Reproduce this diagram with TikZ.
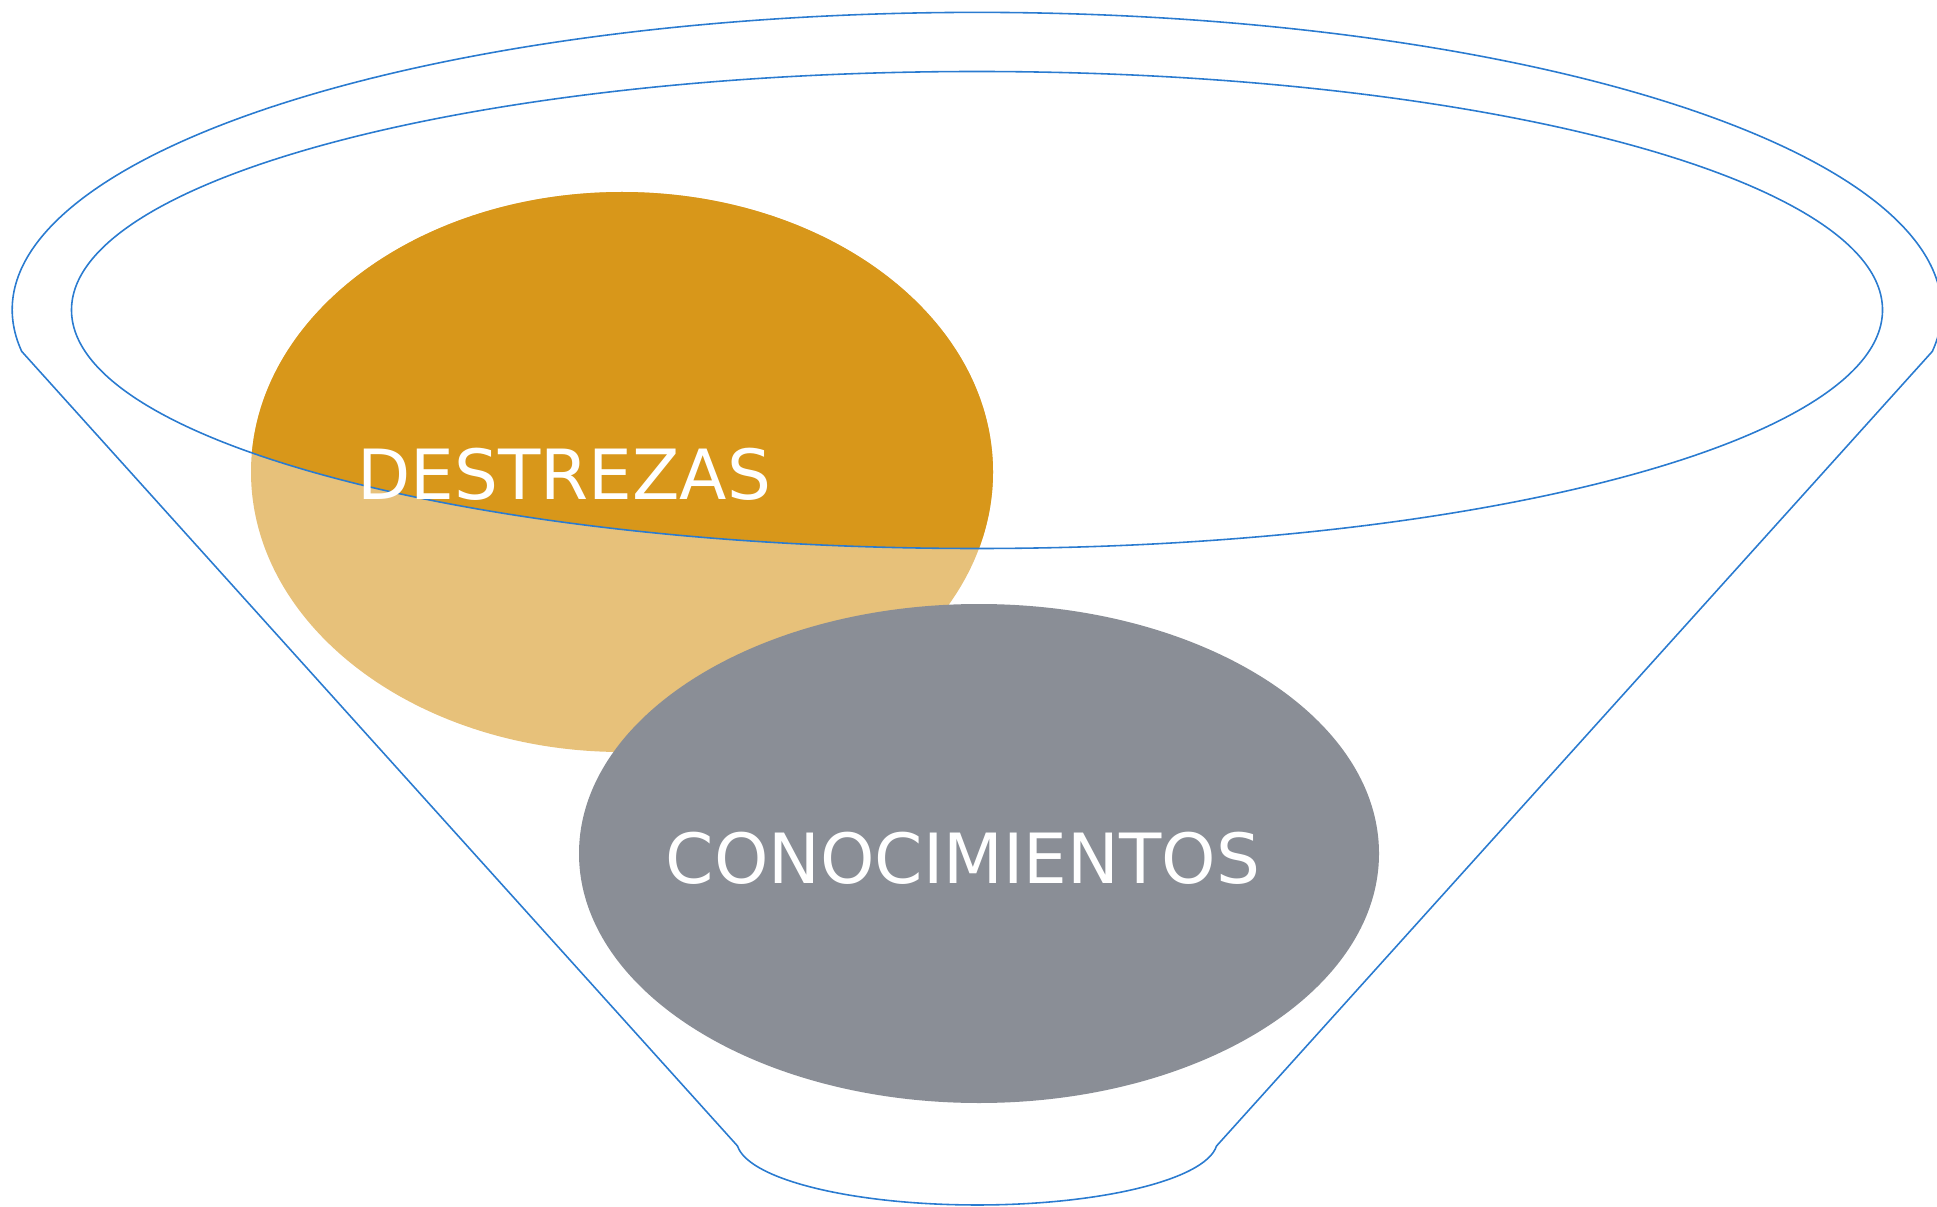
\documentclass[tikz,border=0pt]{standalone}
\usepackage{fontspec}
\newfontfamily\labelfont{DejaVu Sans}
\definecolor{funnelblue}{HTML}{2A7BD0}
\definecolor{darkorange}{HTML}{D8971A}
\definecolor{lightorange}{HTML}{E7C17A}
\definecolor{slategray}{HTML}{8A8E96}
\tikzset{
  funnelline/.style={draw=funnelblue, line width=0.45pt},
  lbl/.style={text=white, inner sep=0pt, font=\labelfont\fontsize{19.7}{24}\selectfont}
}
\begin{document}
\begin{tikzpicture}
\useasboundingbox (0,0) rectangle (19.37,-12.07);
% orange ellipse: lighter outside the funnel mouth, darker inside
\fill[lightorange] (6.22,-4.72) ellipse [x radius=3.71, y radius=2.80];
\begin{scope}
  \clip (9.77,-3.10) ellipse [x radius=9.055, y radius=2.385];
  \fill[darkorange] (6.22,-4.72) ellipse [x radius=3.71, y radius=2.80];
\end{scope}
% gray ellipse
\fill[slategray] (9.79,-8.535) ellipse [x radius=4.00, y radius=2.495];
% funnel outline
\coordinate (lc) at (0.217,-3.514);
\coordinate (rc) at (19.323,-3.514);
\coordinate (lb) at (7.375,-11.46);
\coordinate (rb) at (12.165,-11.46);
\draw[funnelline] (lc) arc [start angle=188, end angle=-8, x radius=9.647, y radius=2.976]
  -- (rb) arc [start angle=-5, end angle=-175, x radius=2.404, y radius=0.646]
  -- cycle;
\draw[funnelline] (9.77,-3.10) ellipse [x radius=9.055, y radius=2.385];
% labels
\node[lbl] (destrezas) at (5.64,-4.745) {DESTREZAS};
\node[lbl] (conoc) at (9.63,-8.58) {CONOCIMIENTOS};
\end{tikzpicture}
\end{document}
